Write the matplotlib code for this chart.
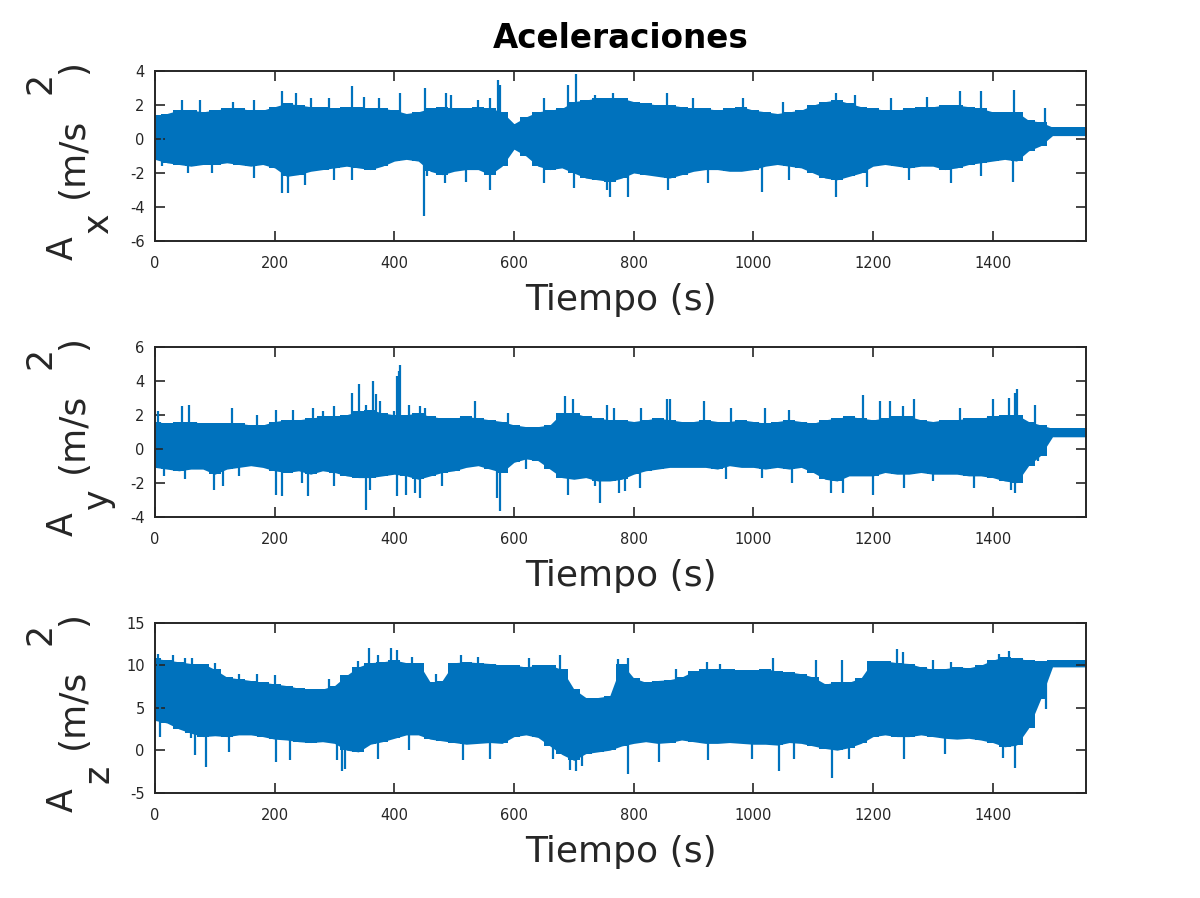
import numpy as np
import matplotlib
matplotlib.use("Agg")
import matplotlib.pyplot as plt

plt.rcParams["axes.unicode_minus"] = False

# ---- datos (envolventes cada 20 s + picos aislados)
t_env = np.arange(0, 1561, 20)

ax_sup = [1.4, 1.5, 1.7, 1.7, 1.6, 1.7, 1.8, 1.8, 1.7, 1.7, 1.9, 2.1, 2.0, 1.9, 1.9, 1.8,
          1.9, 1.9, 1.8, 1.8, 1.7, 1.5, 1.6, 1.8, 1.9, 1.8, 1.8, 1.9, 1.8, 1.6, 0.9, 1.3,
          1.6, 1.7, 1.8, 2.2, 2.3, 2.4, 2.4, 2.4, 2.2, 2.1, 2.0, 2.0, 1.9, 1.8, 1.8, 1.7,
          1.8, 1.9, 1.7, 1.6, 1.5, 1.6, 1.7, 2.0, 2.2, 2.3, 2.1, 1.9, 1.8, 1.7, 1.7, 1.8,
          1.9, 1.9, 2.0, 2.0, 1.9, 1.8, 1.6, 1.6, 1.6, 1.1, 1.0, 0.7, 0.7, 0.7, 0.7]
ax_inf = [-1.2, -1.4, -1.5, -1.6, -1.5, -1.5, -1.4, -1.5, -1.6, -1.5, -1.7, -2.2, -2.1, -1.9,
          -1.8, -1.7, -1.6, -1.7, -1.8, -1.6, -1.3, -1.2, -1.3, -1.9, -2.1, -1.9, -1.8, -1.8,
          -2.1, -1.6, -0.6, -1.0, -1.6, -1.8, -1.7, -2.0, -2.3, -2.4, -2.5, -2.3, -2.0, -2.1,
          -2.2, -2.3, -2.1, -1.9, -1.8, -1.8, -1.9, -1.9, -1.8, -1.6, -1.5, -1.6, -1.7, -2.0,
          -2.3, -2.4, -2.2, -2.0, -1.6, -1.5, -1.6, -1.7, -1.6, -1.6, -1.8, -1.7, -1.5, -1.4,
          -1.3, -1.2, -1.3, -0.7, -0.4, 0.2, 0.2, 0.2, 0.2]
ax_picos_t = [45, 75, 130, 165, 212, 235, 260, 290, 330, 350, 375, 409, 451, 487, 495, 540,
              560, 574, 577, 650, 690, 703, 735, 765, 856, 900, 983, 1050, 1139, 1170, 1230,
              1290, 1345, 1380, 1435, 1488,
              12, 55, 95, 165, 212, 222, 250, 300, 330, 449, 455, 485, 520, 560, 650, 700,
              755, 760, 790, 858, 925, 1015, 1060, 1138, 1190, 1260, 1331, 1380, 1434]
ax_picos_v = [2.3, 2.3, 2.2, 2.3, 2.8, 2.7, 2.4, 2.4, 3.1, 2.5, 2.4, 2.7, 3.0, 2.7, 2.6, 2.3,
              2.4, 3.5, 3.2, 2.4, 3.2, 3.8, 2.6, 2.7, 2.7, 2.4, 2.4, 2.2, 2.7, 2.6, 2.4,
              2.5, 2.8, 2.8, 2.9, 1.8,
              -1.6, -2.0, -2.0, -2.3, -3.2, -3.2, -2.7, -2.4, -2.4, -4.5, -2.2, -2.6, -2.5,
              -3.0, -2.6, -2.9, -3.0, -3.4, -3.4, -3.0, -2.6, -3.1, -2.4, -3.4, -2.8, -2.4,
              -2.6, -2.2, -2.5]

ay_sup = [1.6, 1.5, 1.6, 1.6, 1.5, 1.5, 1.5, 1.5, 1.4, 1.4, 1.6, 1.7, 1.7, 1.8, 1.9, 1.9,
          2.0, 2.2, 2.3, 2.1, 2.0, 2.0, 2.1, 1.9, 1.8, 1.8, 1.9, 1.8, 1.7, 1.6, 1.4, 1.3,
          1.3, 1.4, 2.1, 2.1, 1.9, 1.8, 1.7, 1.7, 1.6, 1.7, 1.8, 1.7, 1.6, 1.6, 1.7, 1.6,
          1.6, 1.7, 1.6, 1.5, 1.6, 1.7, 1.6, 1.5, 1.7, 1.8, 1.9, 1.8, 1.7, 1.8, 1.9, 1.9,
          1.7, 1.6, 1.7, 1.7, 1.8, 1.8, 1.9, 2.0, 2.0, 1.6, 1.4, 1.2, 1.2, 1.2, 1.2]
ay_inf = [-1.1, -1.2, -1.3, -1.2, -1.2, -1.5, -1.2, -1.1, -1.0, -1.1, -1.3, -1.4, -1.3, -1.5,
          -1.3, -1.4, -1.6, -1.7, -1.7, -1.6, -1.5, -1.6, -1.8, -1.6, -1.4, -1.3, -1.1, -1.0,
          -1.2, -1.4, -0.8, -0.6, -0.7, -1.2, -1.7, -1.8, -1.7, -1.9, -1.9, -1.8, -1.5, -1.3,
          -1.2, -1.1, -1.1, -1.1, -1.1, -1.2, -1.0, -1.1, -1.1, -1.2, -1.1, -1.2, -1.1, -1.4,
          -1.8, -1.9, -1.6, -1.6, -1.6, -1.4, -1.5, -1.5, -1.4, -1.5, -1.5, -1.5, -1.6, -1.6,
          -1.7, -1.9, -2.0, -1.0, -0.4, 0.7, 0.7, 0.7, 0.7]
ay_picos_t = [5, 45, 57, 128, 170, 203, 230, 264, 280, 300, 329, 341, 352, 364, 369, 376, 400,
              404, 407, 409, 425, 443, 452, 535, 590, 685, 699, 755, 767, 812, 855, 860, 917,
              962, 1020, 1060, 1184, 1211, 1228, 1250, 1268, 1345, 1400, 1428, 1437, 1440, 1470,
              15, 50, 98, 113, 140, 203, 212, 245, 256, 300, 352, 360, 404, 420, 435, 443, 480,
              576, 572, 620, 690, 735, 743, 775, 785, 810, 955, 1015, 1065, 1130, 1150, 1200,
              1251, 1300, 1368, 1430, 1437, 1475]
ay_picos_v = [2.2, 2.5, 2.6, 2.4, 2.0, 2.3, 2.3, 2.4, 2.2, 2.5, 3.3, 3.8, 2.6, 4.0, 3.2, 2.8, 2.2,
              4.3, 4.6, 4.9, 2.6, 2.5, 2.4, 2.8, 2.1, 3.1, 2.95, 2.6, 2.4, 2.4, 2.9, 2.9, 2.8,
              2.4, 2.4, 2.3, 3.15, 2.8, 2.8, 2.5, 2.9, 2.4, 2.9, 3.0, 3.3, 3.5, 2.6,
              -1.6, -1.8, -2.4, -2.2, -1.6, -2.7, -2.8, -2.0, -2.8, -2.2, -3.6, -2.4, -2.8, -2.7,
              -2.6, -2.9, -2.2, -3.65, -2.9, -1.2, -2.7, -2.2, -3.2, -2.6, -2.5, -2.3, -1.8,
              -1.7, -2.0, -2.6, -2.6, -2.7, -2.3, -1.9, -2.3, -2.4, -2.6, -0.7]

az_sup = [10.8, 10.6, 10.4, 10.2, 10.2, 9.5, 8.6, 8.4, 8.2, 8.0, 7.8, 7.6, 7.3, 7.2, 7.2, 7.6,
          8.8, 9.8, 10.3, 10.4, 10.6, 10.3, 10.3, 8.0, 8.2, 10.3, 10.4, 10.3, 10.2, 10.0, 10.0,
          9.8, 10.0, 10.0, 9.5, 7.2, 6.2, 6.2, 6.4, 10.2, 8.5, 8.0, 8.2, 8.3, 8.6, 9.3, 9.5,
          9.6, 9.5, 9.4, 9.4, 9.6, 9.3, 9.2, 9.0, 8.6, 7.8, 8.0, 8.0, 8.5, 10.5, 10.5, 10.3,
          10.2, 9.8, 9.5, 9.6, 9.8, 9.7, 10.0, 10.6, 11.0, 10.8, 10.6, 10.5, 10.6, 10.6, 10.6,
          10.6]
az_inf = [3.5, 3.2, 2.5, 2.0, 1.6, 1.7, 1.6, 1.8, 1.8, 1.6, 1.3, 1.2, 1.0, 0.9, 1.0, 0.8, 0.0,
          -0.2, 0.7, 1.0, 1.4, 1.8, 1.8, 1.3, 1.1, 0.9, 0.7, 0.8, 0.9, 0.8, 1.6, 1.8, 1.5, 0.5,
          -0.5, -1.2, -0.4, -0.2, 0.0, 0.5, 0.8, 1.0, 0.8, 0.9, 1.2, 1.0, 0.8, 0.8, 0.9, 0.8,
          0.7, 0.7, 0.6, 0.9, 0.8, 0.5, 0.2, 0.0, 0.3, 0.8, 1.6, 1.8, 1.6, 1.6, 1.8, 1.6, 1.4,
          1.3, 1.4, 1.2, 0.9, 0.4, 0.6, 2.6, 6.0, 9.8, 9.8, 9.8, 9.8]
az_picos_t = [5, 30, 50, 62, 100, 140, 170, 200, 290, 340, 357, 372, 394, 404, 430, 470, 511,
              540, 625, 677, 774, 790, 870, 922, 945, 1033, 1105, 1149, 1240, 1250, 1300, 1330,
              1410, 1428,
              8, 60, 86, 67, 124, 202, 226, 305, 312, 318, 372, 425, 514, 560, 665, 693, 703,
              713, 790, 843, 925, 997, 1043, 1068, 1132, 1160, 1251, 1320, 1418, 1437, 1489]
az_picos_v = [11.3, 11.2, 10.8, 10.9, 10.3, 9.0, 9.0, 8.8, 8.4, 10.5, 12.0, 11.2, 12.0, 11.8,
              11.0, 9.0, 11.2, 11.0, 10.8, 11.2, 10.7, 10.8, 9.6, 10.4, 10.2, 10.8, 10.6, 10.6,
              11.9, 11.6, 10.6, 10.4, 11.3, 11.7,
              1.5, 1.4, -2.0, -0.6, -0.2, -1.4, -1.2, -1.2, -2.4, -2.2, -1.0, 0.0, -1.1, -1.0,
              -1.0, -2.3, -2.5, -1.9, -2.8, -1.4, -1.2, -1.0, -2.4, -1.0, -3.3, -1.0, -1.0,
              -0.5, -0.9, -2.1, 4.8]

paneles = [
    (ax_sup, ax_inf, ax_picos_t, ax_picos_v, "x", (-6, 4), [-6, -4, -2, 0, 2, 4]),
    (ay_sup, ay_inf, ay_picos_t, ay_picos_v, "y", (-4, 6), [-4, -2, 0, 2, 4, 6]),
    (az_sup, az_inf, az_picos_t, az_picos_v, "z", (-5, 15), [-5, 0, 5, 10, 15]),
]

azul = "#0072BD"
gris = "#262626"
W, H = 1200, 898

fig = plt.figure(figsize=(12, 8.98), dpi=100)
tops = [71, 346.7, 622.7]
alto = 170

for i, (sup, inf, pt, pv, comp, ylim, yticks) in enumerate(paneles):
    ax = fig.add_axes([155 / W, 1 - (tops[i] + alto) / H, 931 / W, alto / H])
    sup = np.array(sup)
    inf = np.array(inf)
    ax.fill_between(t_env, inf, sup, step="mid", color=azul, lw=0)
    ax.fill_between(t_env, inf, sup, color=azul, lw=0)
    medio = (sup + inf) / 2
    base = np.interp(pt, t_env, medio)
    ax.vlines(pt, base, pv, color=azul, lw=1.6)

    ax.set_xlim(0, 1556)
    ax.set_ylim(*ylim)
    ax.set_xticks(range(0, 1401, 200))
    ax.set_yticks(yticks)
    ax.tick_params(direction="in", length=7, width=1.2, top=True, right=True,
                   labelsize=10.5, colors=gris, pad=7.5)
    ax.tick_params(axis="x", pad=11)
    for s in ax.spines.values():
        s.set_color(gris)
        s.set_linewidth(1.4)

    ax.set_xlabel("Tiempo (s)", fontsize=26, color=gris)
    ax.xaxis.set_label_coords(0.5, -42 / alto)

    # etiqueta y estilo MATLAB: A_x (m/s^2)
    piezas = [("A", -82, 92, 25), (comp, -47, 66.5, 25), ("(m/s", -72, 1.5, 26),
              ("2", -105, -73.5, 25), (")", -72, -89, 26)]
    for txt, dx, dy, fs in piezas:
        ax.annotate(txt, xy=(0, 0.5), xycoords="axes fraction",
                    xytext=(dx * 0.72, -dy * 0.72), textcoords="offset points",
                    rotation=90, rotation_mode="anchor", ha="center", va="baseline",
                    fontsize=fs, color=gris)

    if i == 0:
        ax.set_title("Aceleraciones", fontsize=23.5, fontweight="bold", pad=16.5)

fig.savefig("out.png", dpi=100)
